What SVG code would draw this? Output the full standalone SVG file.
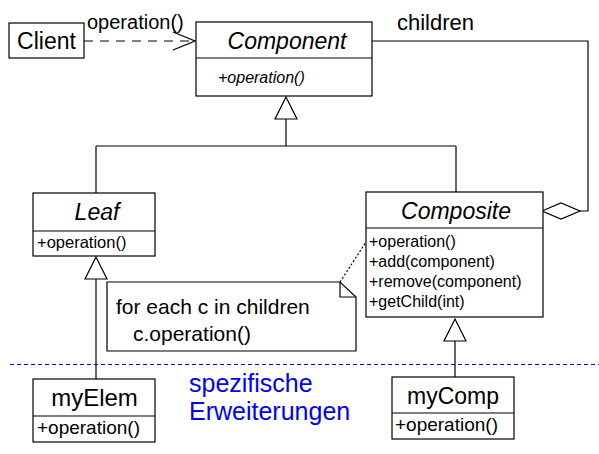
<svg xmlns="http://www.w3.org/2000/svg" width="599" height="454" viewBox="0 0 599 454">
<style>
.box{fill:#fff;stroke:#000;stroke-width:1.2}
.ln{fill:none;stroke:#000;stroke-width:1.2}
.t{font-family:"Liberation Sans",Arial,sans-serif;fill:#000}
.big{font-size:23px}
.it{font-style:italic}
.m{font-size:16px}
.op{font-size:19px}
.blue{fill:#0000ff;font-size:25px}
</style>
<defs>
<marker id="open" markerWidth="26" markerHeight="20" refX="23" refY="10" orient="auto" markerUnits="userSpaceOnUse">
<path d="M1,1 L23,10 L1,19" fill="none" stroke="#000" stroke-width="1.3"/>
</marker>
</defs>
<g id="connectors">
<line x1="84" y1="41" x2="195" y2="41" class="ln" stroke-dasharray="9,7" marker-end="url(#open)"/>
<path class="ln" d="M372,41 H588 V211 H580"/>
<polygon points="542,211 561,203 580,211 561,219" class="box"/>
<polygon points="286,97 275,119 297,119" class="box"/>
<path class="ln" d="M286,119 V146 M96,146 H456 M96,146 V193 M456,146 V192"/>
<polygon points="96,257 85,279 107,279" class="box"/>
<line x1="96" y1="279" x2="96" y2="379" class="ln"/>
<polygon points="455,319 444,341 466,341" class="box"/>
<line x1="455" y1="341" x2="455" y2="377" class="ln"/>
<line x1="340" y1="282" x2="366" y2="242" class="ln" stroke-width="0.8" stroke-dasharray="2,2"/>
<line x1="10" y1="364.5" x2="599" y2="364.5" stroke="#0000ff" stroke-width="1" stroke-dasharray="4,3"/>
</g>
<g id="client">
<rect x="9" y="23" width="75" height="35" class="box"/>
<text x="46.5" y="48.5" class="t big" text-anchor="middle">Client</text>
</g>
<text x="87" y="29" class="t" font-size="20">operation()</text>
<text x="397" y="30" class="t" font-size="22">children</text>
<g id="component">
<rect x="196" y="22" width="176" height="74" class="box"/>
<line x1="196" y1="58" x2="372" y2="58" class="ln"/>
<text x="287" y="49" class="t big it" text-anchor="middle">Component</text>
<text x="218" y="83" class="t it" font-size="16">+operation()</text>
</g>
<g id="leaf">
<rect x="33" y="193" width="122" height="63" class="box"/>
<line x1="33" y1="231" x2="155" y2="231" class="ln"/>
<text x="97" y="220" class="t big it" text-anchor="middle">Leaf</text>
<text x="37" y="248" class="t" font-size="16.5">+operation()</text>
</g>
<g id="composite">
<rect x="366" y="192" width="177" height="125" class="box"/>
<line x1="366" y1="228" x2="543" y2="228" class="ln"/>
<text x="456" y="219" class="t big it" text-anchor="middle">Composite</text>
<text x="369" y="247" class="t m">+operation()</text>
<text x="369" y="267" class="t m">+add(component)</text>
<text x="369" y="287" class="t m">+remove(component)</text>
<text x="369" y="307" class="t m">+getChild(int)</text>
</g>
<g id="note">
<path class="box" d="M107,282 H340 L356,297 V351 H107 Z"/>
<path class="ln" d="M340,282 V297 H356"/>
<text x="116" y="314" class="t" font-size="21">for each c in children</text>
<text x="133" y="341" class="t" font-size="21">c.operation()</text>
</g>
<g id="myElem">
<rect x="33" y="379" width="122" height="63" class="box"/>
<line x1="33" y1="416" x2="155" y2="416" class="ln"/>
<text x="94.5" y="406" class="t" font-size="24" text-anchor="middle">myElem</text>
<text x="37" y="434" class="t op">+operation()</text>
</g>
<g id="myComp">
<rect x="392" y="377" width="122" height="62" class="box"/>
<line x1="392" y1="413" x2="514" y2="413" class="ln"/>
<text x="453" y="404" class="t big" text-anchor="middle">myComp</text>
<text x="395" y="431" class="t op">+operation()</text>
</g>
<g id="label">
<text x="189" y="392" class="t blue">spezifische</text>
<text x="189" y="420" class="t blue">Erweiterungen</text>
</g>
</svg>
